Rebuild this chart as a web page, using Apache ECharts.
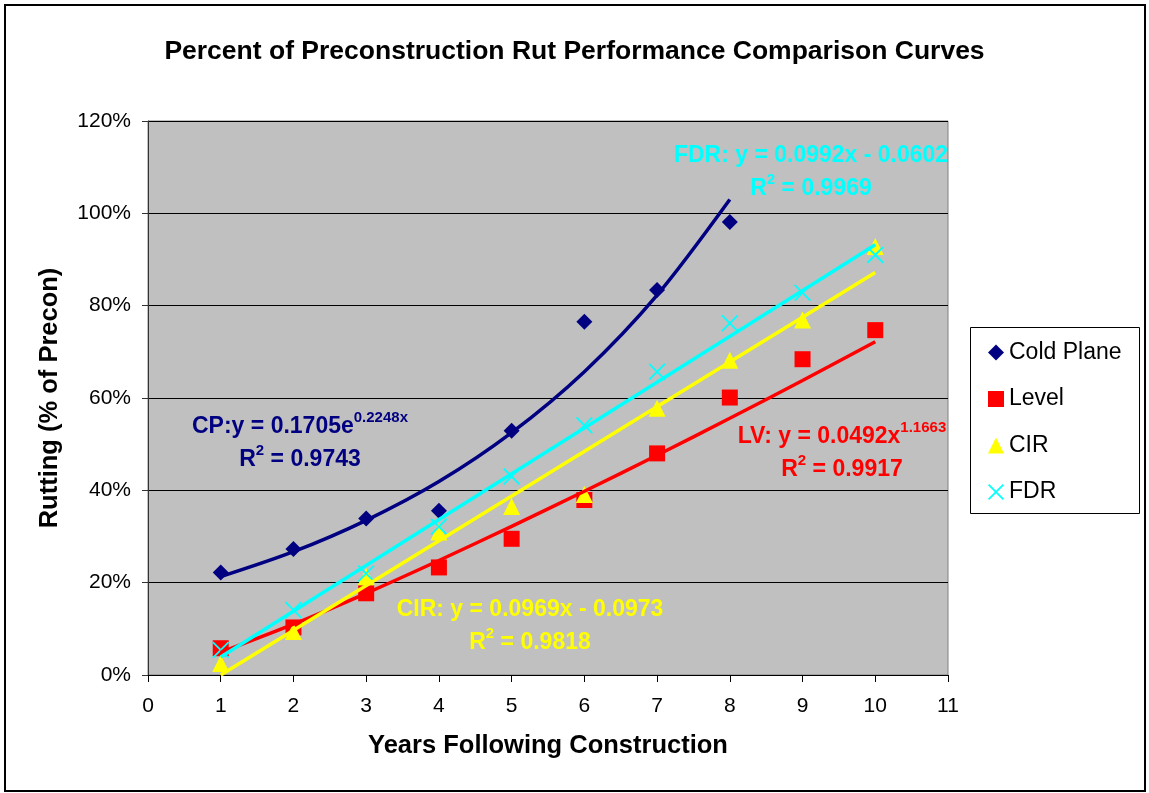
<!DOCTYPE html>
<html>
<head>
<meta charset="utf-8">
<script src="https://cdn.jsdelivr.net/npm/echarts@6/dist/echarts.min.js"></script>
<style>
    html, body { margin: 0; padding: 0; background: #fff; }
    #chart { width: 1149px; height: 793px; }
</style>
</head>
<body>
<div id="chart"></div>
<script>
var font = '"Liberation Sans", Arial, sans-serif';

// measured points (% of precon)
var years = [1, 2, 3, 4, 5, 6, 7, 8, 9, 10];
var coldPlane = [22.2, 27.3, 33.9, 35.6, 52.9, 76.5, 83.4, 98.1];
var level = [5.8, 10.3, 17.7, 23.3, 29.5, 37.9, 48.0, 60.1, 68.4, 74.7];
var cir = [2.5, 9.4, 21.3, 31.0, 36.5, 39.1, 57.8, 68.2, 76.9, 92.8];
var fdr = [5.4, 14.1, 22.0, 32.1, 43.0, 54.1, 65.7, 76.2, 82.8, 91.0];

// trendlines as drawn
var cpTrend = [21.3, 26.7, 33.5, 41.9, 52.5, 65.7, 82.3, 103.0];
var lvTrend = [4.9, 11.0, 17.7, 24.8, 32.2, 39.8, 47.6, 55.6, 63.8, 72.2];
var cirTrendX = [1, 10];
var cirTrend = [0, 87.2];
var fdrTrendX = [1, 10];
var fdrTrend = [3.9, 93.2];

var xTicks = { min: 0, max: 11, interval: 1 };
var yTicks = { min: 0, max: 120, interval: 20 };

function pairs(xs, ys){
    var out = [];
    for(var i = 0; i < ys.length; i++){
        out.push([xs[i], ys[i]]);
    }
    return out;
}

function scatter(name, data, symbol, size, color){
    return {
        name: name,
        type: 'scatter',
        data: pairs(years, data),
        symbol: symbol,
        symbolSize: size,
        itemStyle: { color: color, opacity: 1 },
        z: 3
    };
}

function trend(name, xs, data, color, smooth){
    return {
        name: name,
        type: 'line',
        data: pairs(xs, data),
        symbol: 'none',
        smooth: smooth,
        lineStyle: { color: color, width: 3.5 },
        z: 4
    };
}

// equation label with superscripts
function equation(x, y, color, main, sup, r2){
    var base = { fontFamily: font, fontWeight: 'bold', fontSize: 23, lineHeight: 33, fill: color, color: color };
    var small = { fontFamily: font, fontWeight: 'bold', fontSize: 15, lineHeight: 20, verticalAlign: 'top', fill: color, color: color };
    return {
        type: 'text',
        x: x,
        y: y,
        z: 20,
        style: {
            text: '{a|' + main + '}{s|' + sup + '}\n{a|R}{s|2}{a| = ' + r2 + '}',
            rich: { a: base, s: small },
            align: 'center',
            verticalAlign: 'middle',
            fill: color
        }
    };
}

var xPath = 'path://M0,1.5L1.5,0L10,8.5L18.5,0L20,1.5L11.5,10L20,18.5L18.5,20L10,11.5L1.5,20L0,18.5L8.5,10Z';

var myChart = echarts.init(document.getElementById('chart'));
myChart.setOption({
    animation: false,
    backgroundColor: '#fff',
    title: {
        text: 'Percent of Preconstruction Rut Performance Comparison Curves',
        left: 'center',
        top: 38,
        padding: 0,
        textStyle: { fontFamily: font, fontWeight: 'bold', fontSize: 26.5, color: '#000' }
    },
    grid: {
        left: 148, right: 201, top: 121, bottom: 118,
        show: true,
        backgroundColor: '#C0C0C0',
        borderColor: '#808080',
        borderWidth: 1
    },
    legend: {
        data: ['Cold Plane', 'Level', 'CIR', 'FDR'],
        orient: 'vertical',
        left: 988,
        top: 341,
        padding: 0,
        itemWidth: 16,
        itemHeight: 16,
        itemGap: 23.5,
        textStyle: { fontFamily: font, fontSize: 23, lineHeight: 22, color: '#000' }
    },
    xAxis: {
        type: 'value',
        min: xTicks.min,
        max: xTicks.max,
        interval: xTicks.interval,
        name: 'Years Following Construction',
        nameLocation: 'middle',
        nameGap: 58,
        nameTextStyle: { fontFamily: font, fontWeight: 'bold', fontSize: 25.5, color: '#000' },
        axisLine: { lineStyle: { color: '#000', width: 1 } },
        axisTick: { length: 7, lineStyle: { color: '#000' } },
        axisLabel: { fontFamily: font, fontSize: 21, color: '#000', margin: 21 },
        splitLine: { show: false }
    },
    yAxis: {
        type: 'value',
        min: yTicks.min,
        max: yTicks.max,
        interval: yTicks.interval,
        name: 'Rutting (% of Precon)',
        nameLocation: 'middle',
        nameGap: 85,
        nameTextStyle: { fontFamily: font, fontWeight: 'bold', fontSize: 25.5, color: '#000' },
        axisLine: { show: true, lineStyle: { color: '#333', width: 1 } },
        axisTick: { show: true, length: 6, lineStyle: { color: '#333' } },
        axisLabel: { fontFamily: font, fontSize: 21, color: '#000', margin: 17, formatter: '{value}%' },
        splitLine: { show: true, lineStyle: { color: '#000', width: 1 } }
    },
    graphic: [
        {
            type: 'rect',
            shape: { x: 5, y: 5, width: 1140, height: 786 },
            style: { fill: 'none', stroke: '#000', lineWidth: 2 },
            z: 0
        },
        {
            type: 'rect',
            shape: { x: 970.5, y: 327.5, width: 169, height: 186 },
            style: { fill: '#fff', stroke: '#000', lineWidth: 1 },
            z: 0
        },
        equation(300, 443, '#000080', 'CP:y = 0.1705e', '0.2248x', '0.9743'),
        equation(811, 172, '#00FFFF', 'FDR: y = 0.0992x - 0.0602', '', '0.9969'),
        equation(530, 626, '#FFFF00', 'CIR: y = 0.0969x - 0.0973', '', '0.9818'),
        equation(842, 453, '#FF0000', 'LV: y = 0.0492x', '1.1663', '0.9917')
    ],
    series: [
        scatter('Cold Plane', coldPlane, 'diamond', 16, '#000080'),
        scatter('Level', level, 'rect', 16, '#FF0000'),
        scatter('CIR', cir, 'triangle', 17, '#FFFF00'),
        scatter('FDR', fdr, xPath, 17, '#00FFFF'),
        trend('CP trend', years, cpTrend, '#000080', 0.3),
        trend('LV trend', years, lvTrend, '#FF0000', 0.3),
        trend('CIR trend', cirTrendX, cirTrend, '#FFFF00', false),
        trend('FDR trend', fdrTrendX, fdrTrend, '#00FFFF', false)
    ]
});
</script>
</body>
</html>
